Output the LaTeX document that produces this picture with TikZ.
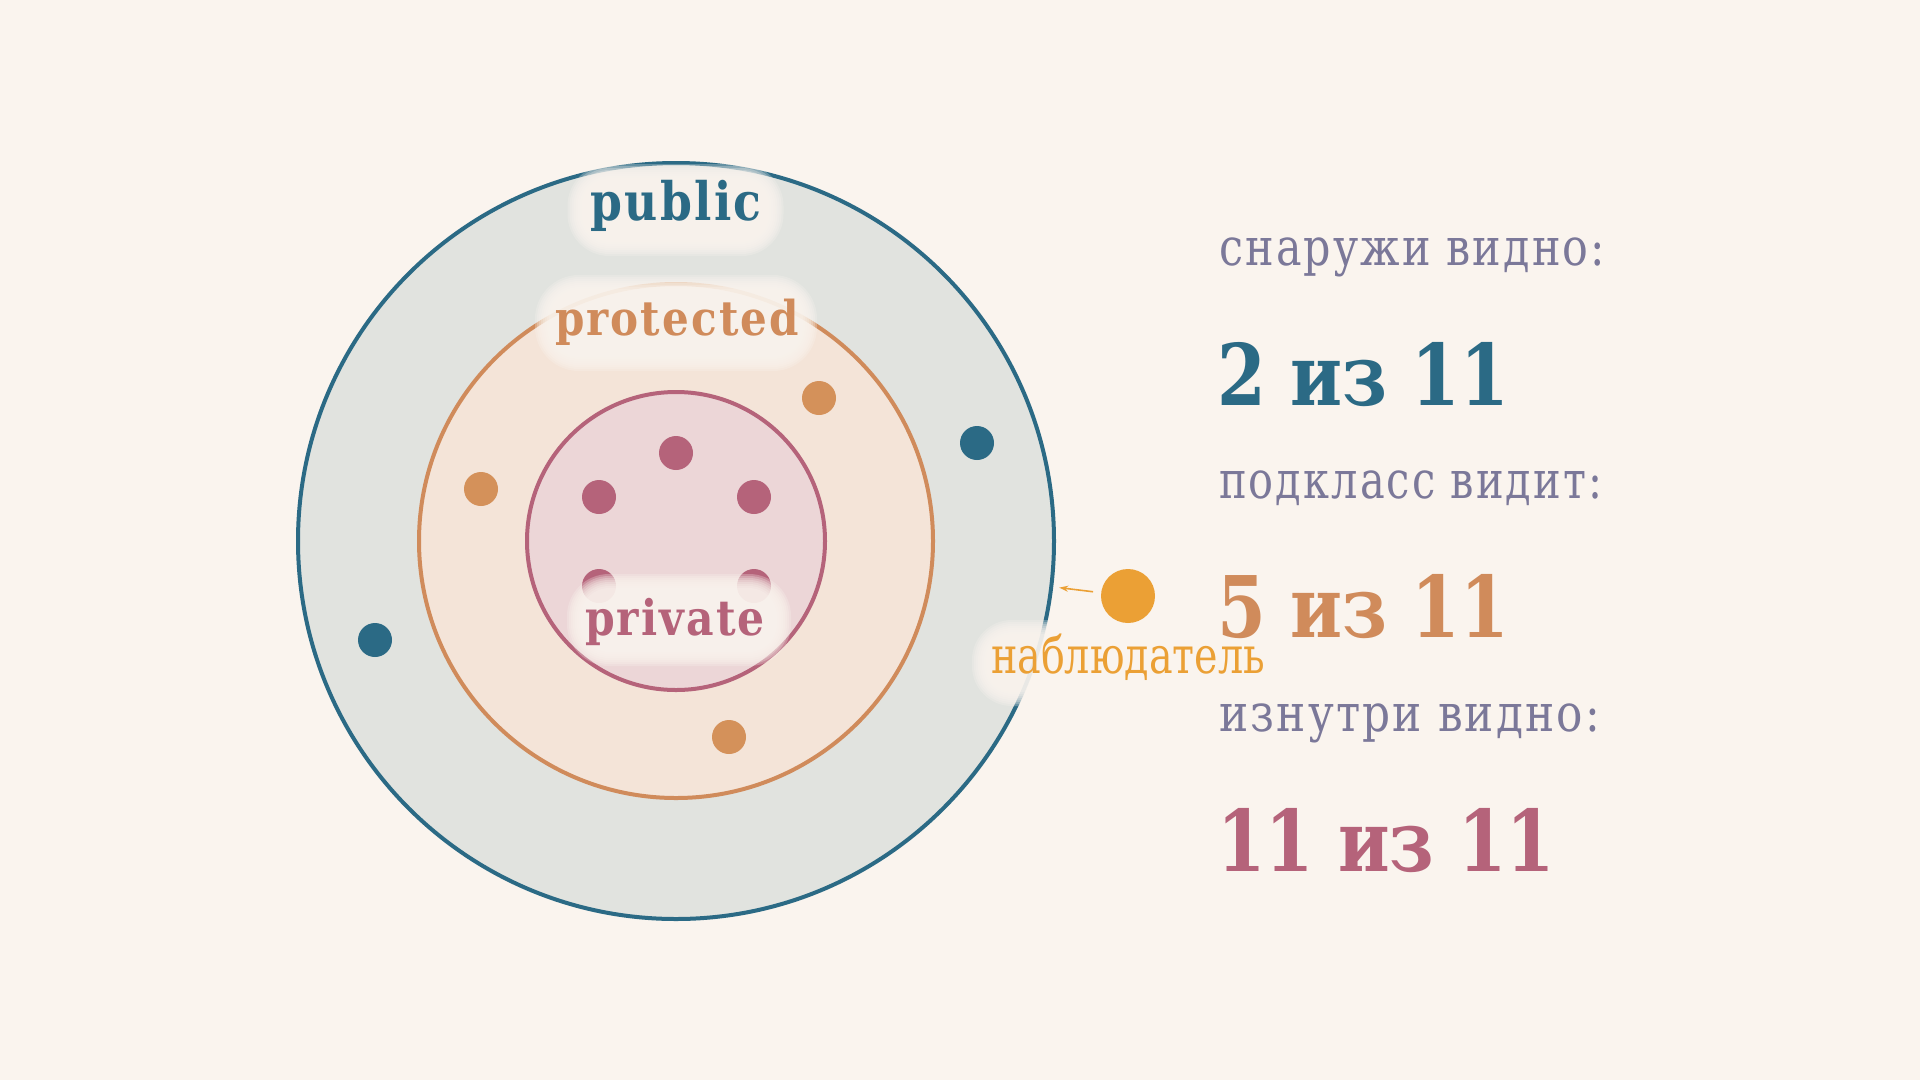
\documentclass[tikz,border=0pt]{standalone}
\usepackage{fontspec}
\usepackage{graphicx}
\setmainfont{DejaVu Serif}
\newfontfamily\labfont[LetterSpace=5]{DejaVu Serif}
\usetikzlibrary{arrows.meta}
\definecolor{bg}{HTML}{FAF4EE}
\definecolor{pubc}{HTML}{2B6A85}
\definecolor{pubfill}{HTML}{E1E3DF}
\definecolor{proc}{HTML}{D08B5B}
\definecolor{profill}{HTML}{F4E4D8}
\definecolor{prvc}{HTML}{B5637A}
\definecolor{prvfill}{HTML}{ECD6D7}
\definecolor{labc}{HTML}{7B7899}
\definecolor{obsc}{HTML}{EBA035}
\definecolor{odot}{HTML}{D4915A}
\newcommand\fitto[2]{\resizebox{#1pt}{\height}{#2}}
\newcommand\glowbox[5]{%
  \foreach \d in {8,6,...,-6}{%
    \pgfmathsetmacro\rr{#5+\d}%
    \fill[bg,opacity=0.28,rounded corners=\rr pt]
      ({#1-#3/2-(\d)},{#2-#4/2-(\d)}) rectangle ({#1+#3/2+(\d)},{#2+#4/2+(\d)});
  }}
\tikzset{
  ring/.style={circle,inner sep=0pt,line width=4pt},
  dotnode/.style={circle,inner sep=0pt,minimum size=34pt},
  ringlabel/.style={anchor=base,inner sep=0pt},
  sidelabel/.style={anchor=base west,inner sep=0pt,text=labc},
  bignum/.style={anchor=base west,inner sep=0pt},
}
\begin{document}
\begin{tikzpicture}[x=1pt,y=-1pt]
\useasboundingbox (0,0) rectangle (1920,1080);
\fill[bg] (0,0) rectangle (1920,1080);

% rings
\node[ring,draw=pubc,fill=pubfill,minimum size=756pt] (outer) at (676,541) {};
\node[ring,draw=proc,fill=profill,minimum size=514pt] (middle) at (676,541) {};
\node[ring,draw=prvc,fill=prvfill,minimum size=298pt] (inner) at (676,541) {};

% members
\node[dotnode,fill=prvc] (p1) at (676,453) {};
\node[dotnode,fill=prvc] (p2) at (599,497) {};
\node[dotnode,fill=prvc] (p3) at (754,497) {};
\node[dotnode,fill=prvc] (p4) at (599,586) {};
\node[dotnode,fill=prvc] (p5) at (754,586) {};
\node[dotnode,fill=odot] (o1) at (481,489) {};
\node[dotnode,fill=odot] (o2) at (819,398) {};
\node[dotnode,fill=odot] (o3) at (729,737) {};
\node[dotnode,fill=pubc] (b1) at (375,640) {};
\node[dotnode,fill=pubc] (b2) at (977,443) {};

% label glows
\glowbox{675.5}{210}{200}{76}{34}
\glowbox{676}{323}{266}{80}{36}
\glowbox{679}{620}{208}{76}{34}
\glowbox{1128}{663}{296}{70}{32}

% ring labels
\node[ringlabel,text=pubc] (lpub) at (676,220)
  {\fitto{171}{\labfont\bfseries\fontsize{53}{60}\selectfont public}};
\node[ringlabel,text=proc] (lpro) at (677,335)
  {\fitto{244}{\labfont\bfseries\fontsize{48}{56}\selectfont protected}};
\node[ringlabel,text=prvc] (lprv) at (675,635)
  {\fitto{180}{\labfont\bfseries\fontsize{49}{56}\selectfont private}};

% observer
\node[circle,inner sep=0pt,minimum size=54pt,fill=obsc] (obs) at (1128,596) {};
\draw[obsc,line width=1.6pt,-{Stealth[length=9pt,width=6pt]},shorten <=8pt,shorten >=6pt] (obs) -- (outer);
\node[anchor=base,inner sep=0pt,text=obsc] (lobs) at (1128,673)
  {\fitto{274}{\fontsize{51}{60}\selectfont наблюдатель}};

% side texts
\node[sidelabel] (t1) at (1219,265)
  {\fitto{386}{\labfont\fontsize{52}{60}\selectfont снаружи видно:}};
\node[bignum,text=pubc] (n1) at (1217,405)
  {\fitto{292}{\bfseries\fontsize{85}{96}\selectfont 2 из 11}};
\node[sidelabel] (t2) at (1219,498)
  {\fitto{383}{\labfont\fontsize{52}{60}\selectfont подкласс видит:}};
\node[bignum,text=proc] (n2) at (1217,637)
  {\fitto{292}{\bfseries\fontsize{85}{96}\selectfont 5 из 11}};
\node[sidelabel] (t3) at (1219,731)
  {\fitto{381}{\labfont\fontsize{52}{60}\selectfont изнутри видно:}};
\node[bignum,text=prvc] (n3) at (1217,871)
  {\fitto{338}{\bfseries\fontsize{85}{96}\selectfont 11 из 11}};
\end{tikzpicture}
\end{document}
